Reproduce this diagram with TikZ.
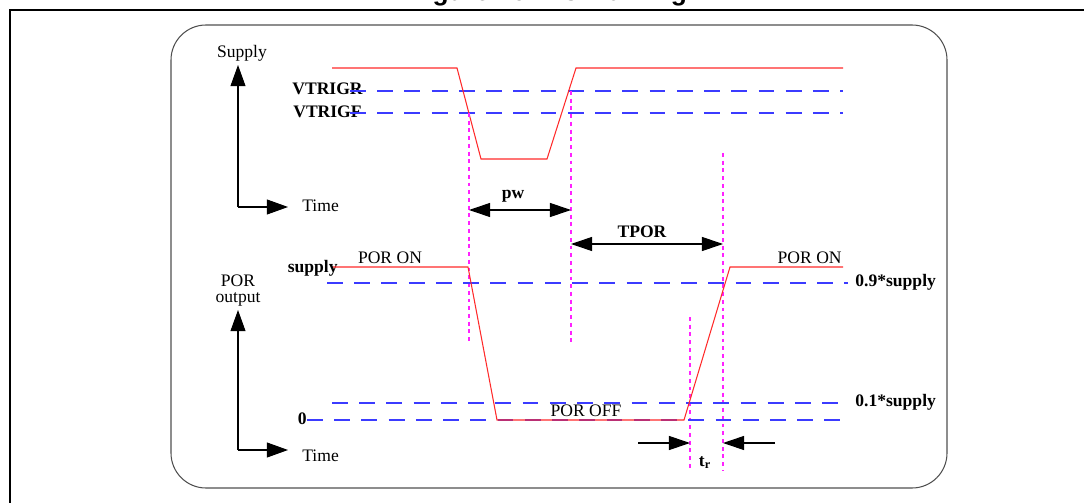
\documentclass[tikz,border=0pt]{standalone}
\usepackage{fontspec}
\setmainfont{Liberation Serif}
\newfontfamily\titlefont{Liberation Sans}
\usetikzlibrary{positioning,arrows.meta}
\definecolor{wavered}{HTML}{FF2A2A}
\definecolor{lvlblue}{HTML}{3B3BFF}
\definecolor{guidemag}{HTML}{FF22FF}
\definecolor{framegray}{HTML}{505050}

\begin{document}
\begin{tikzpicture}[x=0.02cm,y=-0.02cm,>=Triangle,
  wave/.style={draw=wavered,line width=0.6pt},
  lvl/.style={draw=lvlblue,line width=0.7pt,dash pattern=on 9pt off 6.5pt},
  guide/.style={draw=guidemag,line width=0.6pt,dash pattern=on 2.2pt off 2.2pt},
  dim/.style={line width=0.6pt,{Triangle[length=12pt,width=8pt]}-{Triangle[length=12pt,width=8pt]}},
  halfdim/.style={line width=0.6pt,-{Triangle[length=12pt,width=8pt]}},
  axis/.style={line width=0.6pt,-{Triangle[length=12pt,width=8.5pt]}},
  lbl/.style={inner sep=0pt,font=\fontsize{10}{12}\selectfont},
  blbl/.style={inner sep=0pt,font=\fontsize{10}{12}\selectfont\bfseries}]
  \useasboundingbox (0,0) rectangle (1084,503);

  % page frame and title
  \node[anchor=base,inner sep=0pt,font=\titlefont\bfseries\fontsize{15}{18}\selectfont] (title) at (548,1) {Figure 16. POR timing};
  \draw[line width=1.4pt] (10,510) -- (10,10) -- (1090,10);
  \draw[framegray,line width=0.6pt,rounded corners=0.7cm] (171,25) rectangle (947,488);

  % ---------------- top: supply ----------------
  \coordinate (supO) at (238,207);
  \coordinate (supY) at (238,65);
  \coordinate (supX) at (288,207);
  \draw[axis] (supO) -- (supY);
  \draw[axis] (supO) -- (supX);
  \node[lbl,anchor=base] (supname) at (242,58) {Supply};
  \node[lbl,anchor=base west] (suptime) at (302,212) {Time};

  \node[blbl,anchor=base east] (vr) at (363,95) {VTRIGR};
  \node[blbl,anchor=base east] (vf) at (362,118) {VTRIGF};
  \coordinate (vrA) at (350,91);  \coordinate (vrB) at (843,91);
  \coordinate (vfA) at (350,113); \coordinate (vfB) at (843,113);
  \draw[lvl] (vrA) -- (vrB);
  \draw[lvl] (vfA) -- (vfB);

  \coordinate (s0) at (332,68);
  \coordinate (s1) at (457,68);
  \coordinate (s2) at (481,159);
  \coordinate (s3) at (547,159);
  \coordinate (s4) at (576,68);
  \coordinate (s5) at (843,68);
  \draw[wave] (s0) -- (s1) -- (s2) -- (s3) -- (s4) -- (s5);

  % guides
  \coordinate (g1a) at (469,113); \coordinate (g1b) at (469,342);
  \coordinate (g2a) at (571,91);  \coordinate (g2b) at (571,342);
  \coordinate (g3a) at (723,153); \coordinate (g3b) at (723,470);
  \coordinate (g4a) at (690,317); \coordinate (g4b) at (690,470);
  \foreach \g in {g1,g2,g3,g4} \draw[guide] (\g a) -- (\g b);

  % pulse width and TPOR
  \coordinate (pwL) at (469,210); \coordinate (pwR) at (571,210);
  \draw[dim] (pwL) -- (pwR);
  \node[blbl,anchor=base] (pw) at (513,198) {pw};
  \coordinate (tpL) at (571,244); \coordinate (tpR) at (723,244);
  \draw[dim] (tpL) -- (tpR);
  \node[blbl,anchor=base] (tpor) at (642,237) {TPOR};

  % ---------------- bottom: POR output ----------------
  \coordinate (porO) at (238,450);
  \coordinate (porY) at (238,310);
  \coordinate (porX) at (288,450);
  \draw[axis] (porO) -- (porY);
  \draw[axis] (porO) -- (porX);
  \node[lbl,align=center,anchor=base,font=\fontsize{10}{9}\selectfont] (porname) at (238,302) {POR\\output};
  \node[lbl,anchor=base west] (portime) at (302,461) {Time};

  \coordinate (l9A) at (327,283); \coordinate (l9B) at (848,283);
  \coordinate (l1A) at (332,403); \coordinate (l1B) at (848,403);
  \coordinate (l0A) at (307,420); \coordinate (l0B) at (848,420);
  \draw[lvl] (l9A) -- (l9B);
  \draw[lvl] (l1A) -- (l1B);
  \draw[lvl] (l0A) -- (l0B);
  \node[blbl,anchor=base west] (n9) at (855,286) {0.9*supply};
  \node[blbl,anchor=base west] (n1) at (855,406) {0.1*supply};
  \node[blbl,anchor=base east] (n0) at (307,424) {0};
  \node[blbl,anchor=base east] (nsup) at (338,272) {supply};

  \coordinate (p0) at (333,267);
  \coordinate (p1) at (468,267);
  \coordinate (p2) at (497,420);
  \coordinate (p3) at (684,420);
  \coordinate (p4) at (730,267);
  \coordinate (p5) at (843,267);
  \draw[wave] (p0) -- (p1) -- (p2) -- (p3) -- (p4) -- (p5);
  \node[lbl,anchor=base] (onL) at (390,263) {POR ON};
  \node[lbl,anchor=base east] (onR) at (842,263) {POR ON};
  \node[lbl,anchor=base] (off) at (586,416) {POR OFF};

  % rise time
  \coordinate (trL) at (638,443); \coordinate (trR) at (775,443);
  \coordinate (trA) at (690,443); \coordinate (trB) at (723,443);
  \draw[halfdim] (trL) -- (trA);
  \draw[halfdim] (trR) -- (trB);
  \node[blbl,anchor=base] (tr) at (705,466) {t\textsubscript{r}};
\end{tikzpicture}
\end{document}
